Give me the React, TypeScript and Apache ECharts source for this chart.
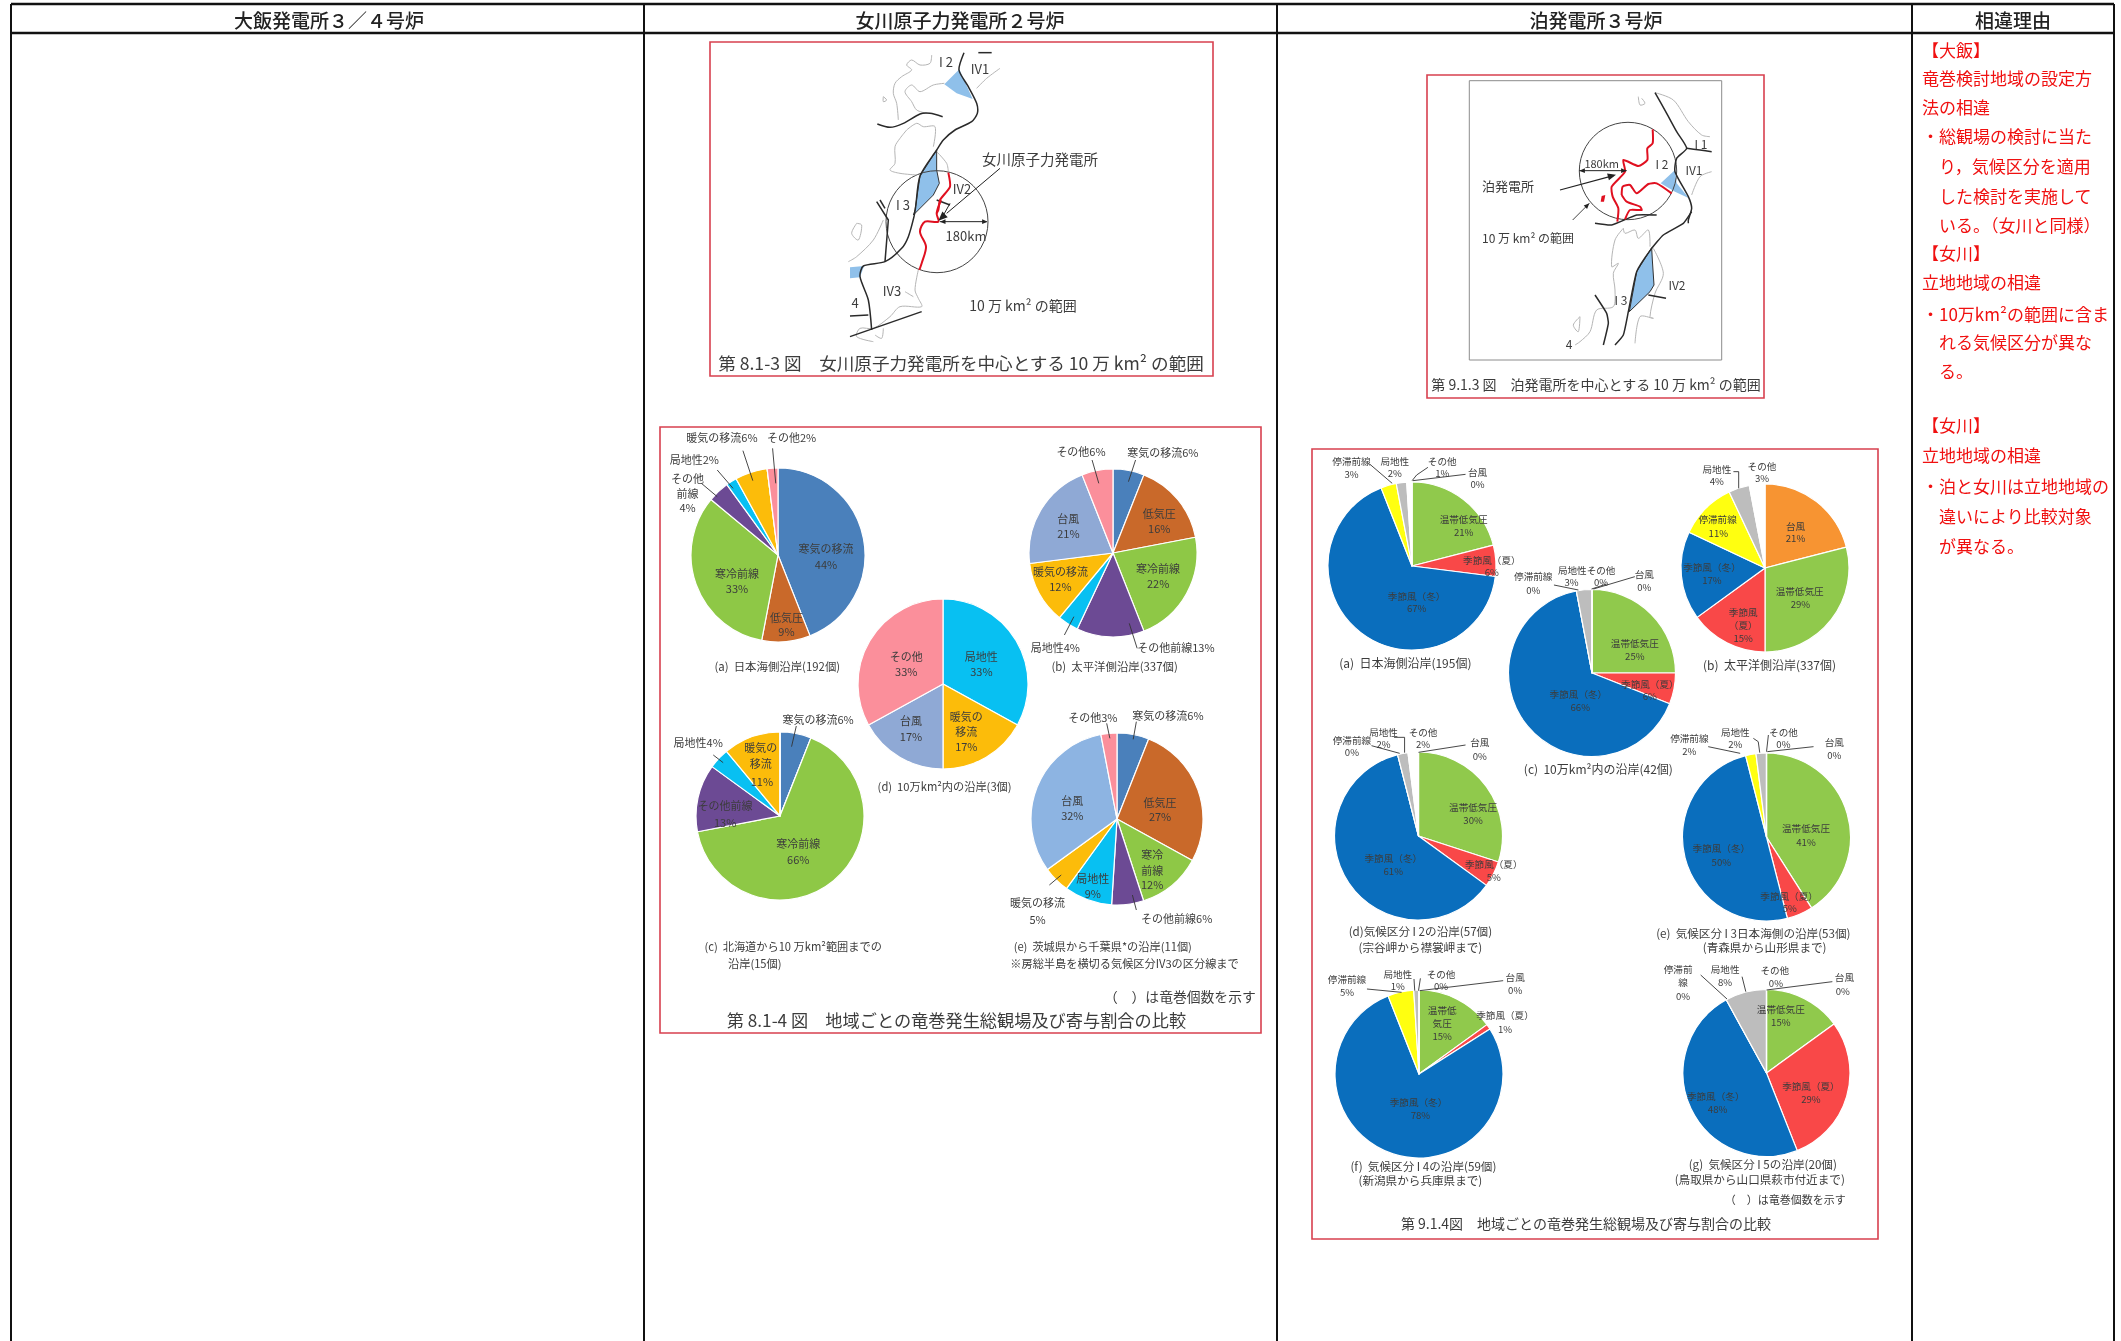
import React, { useEffect, useRef } from "react";
import * as echarts from "echarts";

const WINDOW_W = 2121;
const WINDOW_H = 1341;
const FONT = '"Noto Sans CJK JP", "Noto Sans", sans-serif';

// ---------- data ----------
const onagawaNames = ["寒気の移流", "低気圧", "寒冷前線", "その他前線", "局地性", "暖気の移流", "台風", "その他"];
const onagawaColors = ["#4a80bb", "#c9692a", "#8ec846", "#6c4a94", "#08c0f2", "#fcbc0a", "#8fa9d5", "#fb8f9b"];
const onagawaEColors = ["#4a80bb", "#c9692a", "#8ec846", "#6c4a94", "#08c0f2", "#fcbc0a", "#8db4e2", "#fb8f9b"];
const onagawaA = [44, 9, 33, 4, 2, 6, 0, 2];
const onagawaB = [6, 16, 22, 13, 4, 12, 21, 6];
const onagawaC = [6, 0, 66, 13, 4, 11, 0, 0];
const onagawaE = [6, 27, 12, 6, 9, 5, 32, 3];
// 10万km²内 starts at 局地性
const onagawaDNames = ["局地性", "暖気の移流", "台風", "その他"];
const onagawaDColors = ["#08c0f2", "#fcbc0a", "#8fa9d5", "#fb8f9b"];
const onagawaD = [33, 17, 17, 33];

const tomariNames = ["温帯低気圧", "季節風（夏）", "季節風（冬）", "停滞前線", "局地性", "その他", "台風"];
const tomariColors = ["#90c94c", "#f94848", "#0a6ebd", "#ffff10", "#bdbdbd", "#ffffff", "#f79432"];
const tomariA = [21, 6, 67, 3, 2, 1, 0];
const tomariC = [25, 6, 66, 0, 3, 0, 0];
const tomariD = [30, 5, 61, 0, 2, 2, 0];
const tomariE = [41, 5, 50, 2, 2, 0, 0];
const tomariF = [15, 1, 78, 5, 1, 0, 0];
const tomariG = [15, 29, 48, 0, 8, 0, 0];
const tomariBNames = ["台風", "温帯低気圧", "季節風（夏）", "季節風（冬）", "停滞前線", "局地性", "その他"];
const tomariBColors = ["#f79432", "#90c94c", "#f94848", "#0a6ebd", "#ffff10", "#bdbdbd", "#ffffff"];
const tomariB = [21, 29, 15, 17, 11, 4, 3];

const headers = ["大飯発電所３／４号炉", "女川原子力発電所２号炉", "泊発電所３号炉", "相違理由"];
const reasonLines = [
  "【大飯】", "竜巻検討地域の設定方", "法の相違", "・総観場の検討に当た", "　り，気候区分を適用",
  "　した検討を実施して", "　いる。（女川と同様）", "【女川】", "立地地域の相違",
  "・10万km²の範囲に含ま", "　れる気候区分が異な", "　る。",
  "【女川】", "立地地域の相違", "・泊と女川は立地地域の", "　違いにより比較対象", "　が異なる。",
];

// ---------- layout ----------
const reasonY = [49, 77, 106, 135, 165, 195, 224, 252, 281, 313, 341, 370, 424, 454, 485, 515, 545];
const colX = [11, 644, 1277, 1912, 2114];
const headerCx = [329, 960, 1596, 2013];

const pies: [string[], string[], number[], number, number, number][] = [
  [onagawaNames, onagawaColors, onagawaA, 778, 555, 87],
  [onagawaNames, onagawaColors, onagawaB, 1113, 553, 84],
  [onagawaDNames, onagawaDColors, onagawaD, 943, 684, 85],
  [onagawaNames, onagawaColors, onagawaC, 780, 816, 84],
  [onagawaNames, onagawaEColors, onagawaE, 1117, 819, 86],
  [tomariNames, tomariColors, tomariA, 1412, 566, 84],
  [tomariBNames, tomariBColors, tomariB, 1765, 568, 84],
  [tomariNames, tomariColors, tomariC, 1592, 673, 83.5],
  [tomariNames, tomariColors, tomariD, 1418.5, 836, 84],
  [tomariNames, tomariColors, tomariE, 1766.5, 837, 84],
  [tomariNames, tomariColors, tomariF, 1419, 1074, 84],
  [tomariNames, tomariColors, tomariG, 1766.5, 1073, 83.5],
];

type Pt = [number, number];
type Xf = (x: number, y: number) => Pt;
const z1: Xf = (x, y) => [650 + x / 2.529, 420 + y / 3];
const z2: Xf = (x, y) => [650 + x / 2.529, 700 + y / 3];
const z3: Xf = (x, y) => [1300 + x / 2.658, 440 + y / 3];
const z4: Xf = (x, y) => [1300 + x / 2.658, 720 + y / 3];
const z5: Xf = (x, y) => [1300 + x / 2.658, 960 + y / 3];
const zA1: Xf = (x, y) => [840 + x / 3, 50 + y / 3];
const zA2: Xf = (x, y) => [840 + x / 3, 200 + y / 3];
const zC1: Xf = (x, y) => [1560 + x / 3, 80 + y / 3];
const zC2: Xf = (x, y) => [1540 + x / 3, 210 + y / 3];

const TXT = "#3c3c3c";
const els: any[] = [];
const text = (t: string, p: Pt, size: number, fill = TXT, align = "center", weight = "normal") =>
  els.push({ type: "text", z: 100, silent: true, style: { text: t, x: p[0], y: p[1], fontSize: size, fontFamily: FONT, fontWeight: weight, fill, align, verticalAlign: "middle" } });
const poly = (pts: Pt[], stroke: string, w: number, smooth = 0) =>
  els.push({ type: "polyline", z: 90, silent: true, shape: { points: pts, smooth }, style: { stroke, lineWidth: w, fill: "none", lineJoin: "round" } });
const gon = (pts: Pt[], fill: string, stroke = "none", w = 0) =>
  els.push({ type: "polygon", z: 80, silent: true, shape: { points: pts }, style: { fill, stroke, lineWidth: w } });
const box = (x0: number, y0: number, x1: number, y1: number, stroke: string, w: number) =>
  els.push({ type: "rect", z: 70, silent: true, shape: { x: x0, y: y0, width: x1 - x0, height: y1 - y0 }, style: { fill: "none", stroke, lineWidth: w } });
const mapLine = (f: Xf, raw: number[][], stroke: string, w: number, smooth = 0) => poly(raw.map((p) => f(p[0], p[1])), stroke, w, smooth);
const mapGon = (f: Xf, raw: number[][], fill: string, stroke = "none", w = 0) => gon(raw.map((p) => f(p[0], p[1])), fill, stroke, w);
const labels = (f: Xf, list: [string, number, number][], size: number) => list.forEach(([t, x, y]) => text(t, f(x, y), size));
const leaders = (f: Xf, list: number[][][]) => list.forEach((l) => mapLine(f, l, "#333", 0.9));
const gonTop = (pts: Pt[]) => els.push({ type: "polygon", z: 95, silent: true, shape: { points: pts }, style: { fill: "#222" } });
const arrow = (a: Pt, b: Pt, size = 6) => {
  const ang = Math.atan2(b[1] - a[1], b[0] - a[0]);
  gonTop([b, [b[0] - size * Math.cos(ang - 0.4), b[1] - size * Math.sin(ang - 0.4)], [b[0] - size * Math.cos(ang + 0.4), b[1] - size * Math.sin(ang + 0.4)]]);
};

// table
const LINE = "#111";
poly([[colX[0], 4], [colX[4], 4]], LINE, 2.4);
poly([[colX[0], 33], [colX[4], 33]], LINE, 2.4);
colX.forEach((x) => poly([[x, 4], [x, WINDOW_H]], LINE, 2));
headers.forEach((h, i) => text(h, [headerCx[i], 19], 19, "#222", "center", "500"));
reasonLines.forEach((l, i) => text(l, [1922, reasonY[i]], 17, "#f01010", "left"));

// red frames
const FRAME = "#d8404f";
box(710, 42, 1213, 376, FRAME, 1.6);
box(660, 427, 1261, 1033, FRAME, 1.6);
box(1427, 75, 1764, 398, FRAME, 1.6);
box(1312, 449, 1878, 1239, FRAME, 1.6);

// map A
const MAPBLUE = "#8fc0ea";
const GREY = "#b5b5b5";
const BLK = "#2a2a2a";
const RED = "#e01020";
mapGon(zA1, [[313, 103], [358, 58], [398, 147], [350, 130]], MAPBLUE);
mapGon(zA1, [[290, 300], [240, 378], [225, 480], [220, 495], [280, 435], [298, 400], [290, 360]], MAPBLUE, "#333", 1);
mapGon(zA2, [[30, 202], [72, 198], [60, 232], [30, 235]], MAPBLUE);
[
  [[275, 15], [270, 40], [240, 45], [215, 30], [200, 45], [215, 60], [185, 80], [165, 100], [160, 130], [170, 160], [175, 210]],
  [[313, 100], [280, 105], [240, 125], [215, 105], [195, 125], [215, 155], [230, 180], [260, 190]],
  [[200, 240], [230, 220], [250, 230], [285, 230], [280, 290]],
  [[200, 240], [180, 265], [165, 290], [165, 340], [150, 360], [180, 370], [230, 375]],
  [[290, 305], [320, 340], [325, 365]],
  [[410, 115], [440, 85], [480, 55]],
  [[130, 140], [140, 150], [130, 155], [130, 140]],
].forEach((l) => mapLine(zA1, l, GREY, 1, 0.3));
[
  [[130, 60], [100, 120], [50, 170], [25, 185]],
  [[50, 70], [35, 100], [55, 120], [65, 75], [50, 70]],
  [[235, 210], [225, 270], [235, 295], [245, 320], [180, 320], [150, 350], [100, 385], [60, 385], [50, 410], [100, 425]],
  [[195, 275], [220, 290]],
  [[130, 385], [125, 415], [105, 405]],
].forEach((l) => mapLine(zA2, l, GREY, 1, 0.3));
[
  [[372, 8], [357, 60], [385, 110], [410, 160], [412, 190], [395, 215], [345, 240], [310, 270], [290, 300], [240, 378], [227, 470], [222, 500], [205, 560], [185, 595], [135, 635], [70, 648], [60, 680], [85, 750], [95, 840]],
  [[112, 222], [150, 232], [190, 220], [240, 192], [270, 190], [308, 200]],
  [[415, 8], [455, 8]],
  [[290, 450], [330, 465]],
].forEach((l) => mapLine(zA1, l, BLK, 1.5, 0.25));
[
  [[110, 5], [145, 60], [135, 185]],
  [[30, 410], [245, 335]],
  [[30, 348], [85, 345]],
  [[120, 0], [135, 25]],
].forEach((l) => mapLine(zA2, l, BLK, 1.5));
els.push({ type: "circle", z: 85, silent: true, shape: { cx: 937, cy: 221.7, r: 51 }, style: { fill: "none", stroke: "#444", lineWidth: 1 } });
mapLine(zA1, [[325, 368], [330, 410], [300, 450], [295, 480], [290, 490]], RED, 2, 0.2);
mapLine(zA2, [[303, 0], [290, 40], [295, 65], [255, 65], [240, 95], [258, 140], [245, 190], [238, 210]], RED, 2, 0.3);
mapLine(zA1, [[480, 355], [320, 490]], "#222", 1);
mapLine(zA2, [[330, 10], [305, 55]], "#222", 1);
arrow(zA2(340, 20), zA2(295, 62), 10);
mapLine(zA2, [[300, 65], [440, 65]], "#222", 1);
arrow(zA2(300, 65), zA2(443, 65));
arrow(zA2(443, 65), zA2(300, 65));
([["I 2", 946, 61], ["IV1", 980, 68], ["IV2", 962, 188], ["I 3", 903, 204], ["IV3", 892, 290], ["4", 855, 302]] as [string, number, number][]).forEach(([t, x, y]) => text(t, [x, y], 13));
text("女川原子力発電所", [1040, 158], 14.5);
text("180km", [966, 235], 13);
text("10 万 km² の範囲", [1023, 305], 14);
text("第 8.1-3 図　女川原子力発電所を中心とする 10 万 km² の範囲", [961, 362], 17.6);

// map C
box(1469.3, 80.7, 1721.7, 360, "#8c8c8c", 1);
mapGon(zC1, [[302, 310], [345, 270], [350, 310], [387, 355], [345, 335]], MAPBLUE);
mapGon(zC2, [[335, 113], [290, 185], [268, 305], [330, 245], [342, 225], [337, 150]], MAPBLUE, "#333", 1);
[
  [[285, 38], [340, 60], [385, 125], [425, 165], [450, 170]],
  [[455, 275], [420, 290], [395, 345]],
  [[235, 50], [240, 75], [255, 70], [245, 55]],
].forEach((l) => mapLine(zC1, l, GREY, 1, 0.3));
[
  [[250, 55], [255, 70], [285, 60], [295, 85], [325, 60], [330, 110]],
  [[250, 55], [225, 90], [215, 170], [235, 160], [220, 190], [225, 240], [220, 290], [170, 300], [150, 365], [120, 395], [105, 405]],
  [[120, 320], [100, 345], [115, 365], [120, 320]],
  [[340, 115], [370, 190], [345, 250], [330, 320], [340, 325], [300, 320], [285, 400]],
].forEach((l) => mapLine(zC2, l, GREY, 1, 0.3));
mapLine(zC1, [[285, 38], [320, 100], [350, 155], [380, 205], [350, 235], [345, 275], [385, 350], [395, 385], [385, 420], [385, 430]], BLK, 1.5, 0.2);
mapLine(zC1, [[380, 205], [420, 210], [455, 215]], BLK, 1.5, 0.2);
[
  [[455, 5], [430, 40], [370, 75], [335, 115], [290, 185], [265, 305], [250, 375], [225, 405]],
  [[165, 40], [215, 45], [290, 15], [350, 15]],
  [[165, 255], [200, 310], [205, 340], [190, 405]],
  [[325, 255], [378, 265]],
].forEach((l) => mapLine(zC2, l, BLK, 1.5, 0.15));
els.push({ type: "circle", z: 85, silent: true, shape: { cx: 1628, cy: 171, r: 48.7 }, style: { fill: "none", stroke: "#444", lineWidth: 1 } });
mapLine(zC1, [[278, 148], [278, 190], [262, 205], [262, 240], [235, 258], [190, 240], [195, 275], [155, 320], [158, 350], [175, 385], [172, 425]], RED, 2, 0.2);
mapLine(zC1, [[185, 345], [188, 320], [210, 315], [230, 340], [265, 312], [290, 310], [335, 340]], RED, 2, 0.2);
mapLine(zC1, [[185, 345], [200, 365], [240, 380], [245, 390], [210, 390], [195, 418]], RED, 2, 0.2);
mapGon(zC1, [[125, 348], [136, 345], [132, 365], [122, 365]], RED);
mapLine(zC1, [[0, 330], [160, 287]], "#222", 1.2);
arrow(zC1(0, 330), zC1(168, 284), 9);
mapLine(zC1, [[58, 272], [200, 272]], "#222", 1);
arrow(zC1(58, 272), zC1(200, 272));
arrow(zC1(200, 272), zC1(58, 272));
mapLine(zC1, [[38, 420], [88, 370]], "#444", 1);
arrow(zC1(38, 420), zC1(88, 370));
([["I 2", 1662, 163], ["I 1", 1701, 143], ["IV1", 1694, 169], ["IV2", 1677, 284], ["I 3", 1621, 299], ["4", 1569, 343]] as [string, number, number][]).forEach(([t, x, y]) => text(t, [x, y], 12));
text("180km", [1601.7, 163], 11);
text("泊発電所", [1508, 185], 13);
text("10 万 km² の範囲", [1528, 237], 12);
text("第 9.1.3 図　泊発電所を中心とする 10 万 km² の範囲", [1596, 384], 14);

// Onagawa pie texts
labels(z1, [
  ["暖気の移流6%", 182, 52], ["その他2%", 358, 50], ["局地性2%", 112, 118], ["その他", 95, 175], ["前線", 95, 218], ["4%", 95, 260],
  ["寒気の移流", 445, 385], ["44%", 445, 433], ["寒冷前線", 220, 458], ["33%", 220, 505], ["低気圧", 345, 590], ["9%", 345, 632],
  ["その他6%", 1090, 92], ["寒気の移流6%", 1297, 95], ["低気圧", 1288, 280], ["16%", 1288, 325], ["台風", 1058, 293], ["21%", 1058, 340],
  ["寒冷前線", 1285, 445], ["22%", 1285, 490], ["暖気の移流", 1038, 452], ["12%", 1038, 498], ["局地性4%", 1025, 680], ["その他前線13%", 1330, 680],
  ["その他", 648, 708], ["33%", 648, 753], ["局地性", 838, 708], ["33%", 838, 753],
], 11);
leaders(z1, [
  [[235, 92], [260, 182]], [[310, 85], [318, 190]], [[170, 150], [210, 205]], [[130, 190], [170, 230]],
  [[1118, 120], [1135, 190]], [[1228, 120], [1210, 185]], [[1048, 645], [1072, 590]], [[1212, 610], [1232, 685]],
]);
labels(z1, [["(a)  日本海側沿岸(192個)", 322, 738], ["(b)  太平洋側沿岸(337個)", 1175, 738]], 11.4);
labels(z2, [
  ["台風", 660, 60], ["17%", 660, 107], ["暖気の", 800, 47], ["移流", 800, 93], ["17%", 800, 137],
  ["寒気の移流6%", 425, 57], ["局地性4%", 122, 127], ["暖気の", 280, 140], ["移流", 280, 190], ["11%", 283, 242],
  ["その他前線", 190, 315], ["13%", 190, 365], ["寒冷前線", 375, 430], ["66%", 375, 478],
  ["その他3%", 1120, 50], ["寒気の移流6%", 1310, 45], ["低気圧", 1290, 305], ["27%", 1290, 348], ["台風", 1068, 300], ["32%", 1068, 345],
  ["寒冷", 1270, 462], ["前線", 1270, 510], ["12%", 1270, 553], ["局地性", 1120, 533], ["9%", 1120, 578], ["暖気の移流", 980, 607], ["5%", 980, 657],
  ["その他前線6%", 1332, 653],
], 11);
leaders(z2, [
  [[370, 78], [358, 140]], [[160, 165], [185, 188]], [[1155, 70], [1163, 115]], [[1230, 65], [1222, 118]], [[1010, 555], [1040, 525]], [[1220, 585], [1230, 630]],
]);
labels(z2, [
  ["(d)  10万km²内の沿岸(3個)", 745, 258], ["(c)  北海道から10 万km²範囲までの", 362, 737], ["沿岸(15個)", 265, 788],
  ["(e)  茨城県から千葉県*の沿岸(11個)", 1145, 737], ["※房総半島を横切る気候区分IV3の区分線まで", 1200, 788],
], 11.2);
text("（　）は竜巻個数を示す", z2(1340, 888), 13.8);
text("第 8.1-4 図　地域ごとの竜巻発生総観場及び寄与割合の比較", z2(775, 957), 17.2);

// Tomari pie texts
labels(z3, [
  ["停滞前線", 137, 63], ["3%", 137, 103], ["局地性", 252, 62], ["2%", 252, 100], ["その他", 378, 62], ["1%", 378, 100], ["台風", 472, 97], ["0%", 472, 133],
  ["温帯低気圧", 435, 237], ["21%", 435, 275], ["季節風（夏）", 510, 360], ["6%", 510, 397], ["季節風（冬）", 310, 467], ["67%", 310, 505],
  ["局地性", 1108, 87], ["4%", 1108, 123], ["その他", 1228, 78], ["3%", 1228, 115], ["台風", 1317, 257], ["21%", 1317, 295], ["温帯低気圧", 1328, 452], ["29%", 1330, 492],
  ["季節風", 1178, 515], ["（夏）", 1178, 555], ["15%", 1178, 593], ["季節風（冬）", 1095, 382], ["17%", 1095, 420], ["停滞前線", 1110, 237], ["11%", 1112, 278],
  ["停滞前線", 620, 408], ["0%", 620, 450], ["局地性その他", 762, 390], ["3%", 722, 427], ["0%", 800, 427], ["台風", 915, 403], ["0%", 915, 440],
  ["温帯低気圧", 890, 608], ["25%", 890, 648], ["季節風（夏）", 930, 732], ["6%", 930, 767], ["季節風（冬）", 740, 763], ["66%", 745, 802],
], 9.6);
leaders(z3, [
  [[185, 72], [245, 130]], [[340, 82], [310, 105], [298, 122]], [[440, 103], [300, 122]],
  [[1152, 95], [1166, 95], [1166, 145]],
  [[675, 435], [740, 450]], [[815, 432], [775, 447]], [[890, 410], [780, 447]],
]);
labels(z3, [["(a)  日本海側沿岸(195個)", 280, 667], ["(b)  太平洋側沿岸(337個)", 1248, 672], ["(c)  10万km²内の沿岸(42個)", 793, 985]], 12);
labels(z4, [
  ["停滞前線", 138, 60], ["0%", 138, 97], ["局地性", 222, 37], ["2%", 222, 72], ["その他", 327, 37], ["2%", 327, 72], ["台風", 478, 67], ["0%", 478, 107],
  ["温帯低気圧", 460, 262], ["30%", 460, 300], ["季節風（夏）", 515, 432], ["5%", 515, 472], ["季節風（冬）", 248, 415], ["61%", 248, 452],
  ["停滞前線", 1035, 55], ["2%", 1035, 92], ["局地性", 1157, 37], ["2%", 1157, 73], ["その他", 1285, 37], ["0%", 1285, 73], ["台風", 1420, 67], ["0%", 1420, 105],
  ["温帯低気圧", 1345, 325], ["41%", 1345, 365], ["季節風（夏）", 1300, 527], ["5%", 1302, 565], ["季節風（冬）", 1120, 385], ["50%", 1120, 425],
], 9.6);
leaders(z4, [
  [[190, 77], [265, 100]], [[250, 52], [278, 52], [278, 98]], [[440, 75], [315, 97]],
  [[1085, 80], [1170, 100]], [[1205, 55], [1218, 65], [1222, 98]], [[1245, 45], [1240, 95]], [[1365, 80], [1242, 95]],
]);
labels(z4, [
  ["(d)気候区分 I 2の沿岸(57個)", 320, 632], ["(宗谷岬から襟裳岬まで)", 320, 680],
  ["(e)  気候区分 I 3日本海側の沿岸(53個)", 1205, 638], ["(青森県から山形県まで)", 1235, 682],
], 11.6);
labels(z5, [
  ["停滞前線", 125, 57], ["5%", 125, 95], ["局地性", 260, 42], ["1%", 260, 77], ["その他", 375, 42], ["0%", 375, 77], ["台風", 572, 52], ["0%", 572, 90],
  ["温帯低", 378, 150], ["気圧", 378, 188], ["15%", 378, 228], ["季節風（夏）", 545, 165], ["1%", 545, 207], ["季節風（冬）", 315, 425], ["78%", 320, 465],
  ["停滞前", 1005, 28], ["線", 1018, 67], ["0%", 1018, 107], ["局地性", 1130, 28], ["8%", 1130, 67], ["その他", 1262, 30], ["0%", 1265, 70], ["台風", 1447, 52], ["0%", 1443, 93],
  ["温帯低気圧", 1278, 148], ["15%", 1278, 187], ["季節風（夏）", 1358, 378], ["29%", 1358, 417], ["季節風（冬）", 1105, 407], ["48%", 1110, 447],
], 9.6);
leaders(z5, [
  [[178, 87], [270, 97]], [[303, 57], [305, 92]], [[320, 55], [315, 92]], [[540, 62], [318, 92]],
  [[1065, 45], [1135, 117]], [[1175, 50], [1185, 95]], [[1415, 65], [1240, 90]],
]);
labels(z5, [
  ["(f)  気候区分 I 4の沿岸(59個)", 328, 618], ["(新潟県から兵庫県まで)", 320, 660],
  ["(g)  気候区分 I 5の沿岸(20個)", 1230, 612], ["(鳥取県から山口県萩市付近まで)", 1222, 658],
], 11.6);
text("（　）は竜巻個数を示す", z5(1290, 718), 11);
text("第 9.1.4図　地域ごとの竜巻発生総観場及び寄与割合の比較", z5(760, 790), 14);

const option: any = {
  animation: false,
  backgroundColor: "#ffffff",
  series: pies.map(([names, colors, values, cx, cy, r]) => ({
    type: "pie",
    silent: true,
    center: [cx, cy],
    radius: [0, r],
    startAngle: 90,
    clockwise: true,
    label: { show: false },
    labelLine: { show: false },
    itemStyle: { borderColor: "#ffffff", borderWidth: 1.2 },
    data: names.map((name, i) => ({ name, value: values[i], itemStyle: { color: colors[i] } })),
  })),
  graphic: { elements: els },
};

export default function App() {
  const ref = useRef<HTMLDivElement>(null);
  useEffect(() => {
    const chart = echarts.init(ref.current!, undefined, { renderer: "svg" });
    chart.setOption(option);
    return () => chart.dispose();
  }, []);
  return (
    <div
      ref={ref}
      style={{ position: "fixed", left: 0, top: 0, width: WINDOW_W, height: WINDOW_H, filter: "blur(0.5px)" }}
    />
  );
}
